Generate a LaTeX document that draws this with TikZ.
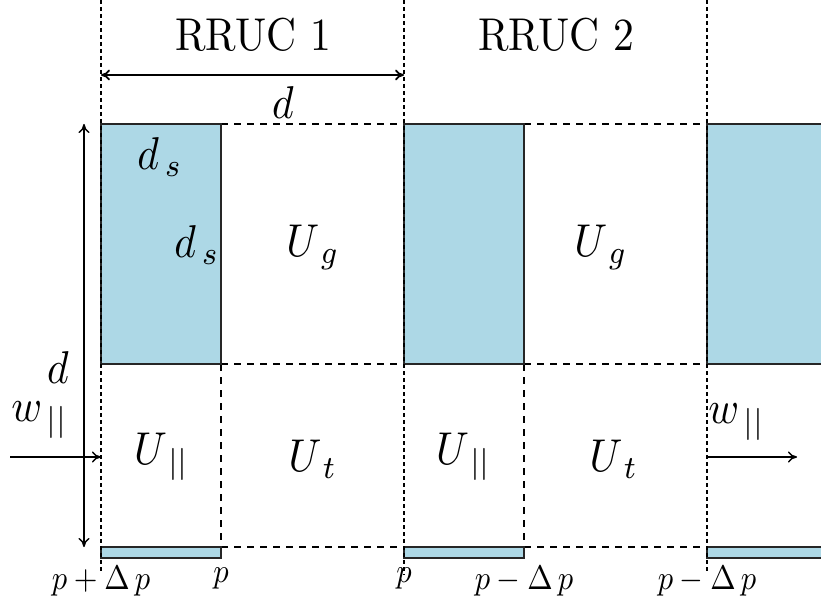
\documentclass[tikz,border=0pt]{standalone}
\usetikzlibrary{arrows.meta}
\definecolor{boxblue}{RGB}{173,216,230}
\newcommand\mylab[1]{\scalebox{4.15}[4.6]{#1}}
\newcommand\mysml[1]{\scalebox{3.05}[3.4]{#1}}
\begin{document}
\begin{tikzpicture}[x=1pt,y=-1pt,
  lbl/.style={font=\normalsize, inner sep=0pt},
  blk/.style={draw=black!85, line width=1.3pt, fill=boxblue},
  cellline/.style={line width=1.3pt, dash pattern=on 7pt off 6pt},
  divline/.style={line width=1.1pt, dash pattern=on 4pt off 3pt},
  tip/.tip={To[length=9pt,width=11pt]},
  arr/.style={line width=1.4pt, -tip},
  darr/.style={line width=1.4pt, tip-tip}]
\useasboundingbox (0,0) rectangle (821,604);
\clip (0,0) rectangle (821,604);
% cell grid (dashed)
\draw[cellline] (221,124) -- (404,124) (524,124) -- (707,124);
\draw[cellline] (221,364) -- (404,364) (524,364) -- (707,364);
\draw[cellline] (221,547) -- (404,547) (524,547) -- (707,547);
\draw[cellline] (221,364) -- (221,547) (524,364) -- (524,547);
% blue blocks
\draw[blk] (101,124) rectangle (221,364);
\draw[blk] (404,124) rectangle (524,364);
\draw[blk] (707,124) rectangle (840,364);
\draw[blk] (101,547) rectangle (221,558);
\draw[blk] (404,547) rectangle (524,558);
\draw[blk] (707,547) rectangle (840,558);
% unit cell dividers
\draw[divline] (101,0) -- (101,572);
\draw[divline] (404,0) -- (404,575);
\draw[divline] (707,0) -- (707,572);
% coordinates for dimension arrows
\coordinate (dL) at (101,75);
\coordinate (dR) at (404,75);
\coordinate (vT) at (84,124);
\coordinate (vB) at (84,547);
\coordinate (wS) at (10,457);
\coordinate (wE) at (101,457);
\coordinate (rS) at (707,457);
\coordinate (rE) at (797,457);
\draw[darr, line width=1.8pt] (dL) -- (dR);
\draw[darr] (vT) -- (vB);
\draw[arr] (wS) -- (wE);
\draw[arr] (rS) -- (rE);
% labels
\node[lbl] (r1) at (253,35) {\mylab{RRUC 1}};
\node[lbl] (r2) at (556,35) {\mylab{RRUC 2}};
\node[lbl] (dh) at (283,103) {\mylab{$d$}};
\node[lbl] (dv) at (58,368) {\mylab{$d$}};
\node[lbl] (ds1) at (160,157) {\mylab{$d_{\,s}$}};
\node[lbl] (ds2) at (197,245) {\mylab{$d_{\,s}$}};
\node[lbl] (ug1) at (313,247) {\mylab{$U_{\,g}$}};
\node[lbl] (ug2) at (601,247) {\mylab{$U_{\,g}$}};
\node[lbl] (up1) at (162,457) {\mylab{$U_{\,||}$}};
\node[lbl] (up2) at (464,457) {\mylab{$U_{\,||}$}};
\node[lbl] (ut1) at (313,459) {\mylab{$U_{\,t}$}};
\node[lbl] (ut2) at (614,459) {\mylab{$U_{\,t}$}};
\node[lbl] (wl) at (40,420) {\mylab{$w_{\,||}$}};
\node[lbl] (wr) at (737,422) {\mylab{$w_{\,||}$}};
\node[lbl] (b1) at (101,581) {\mysml{$p+\Delta\,p$}};
\node[lbl] (b2) at (221,578) {\mysml{$p$}};
\node[lbl] (b3) at (404,578) {\mysml{$p$}};
\node[lbl] (b4) at (524,581) {\mysml{$p-\Delta\,p$}};
\node[lbl] (b5) at (707,581) {\mysml{$p-\Delta\,p$}};
\end{tikzpicture}
\end{document}
